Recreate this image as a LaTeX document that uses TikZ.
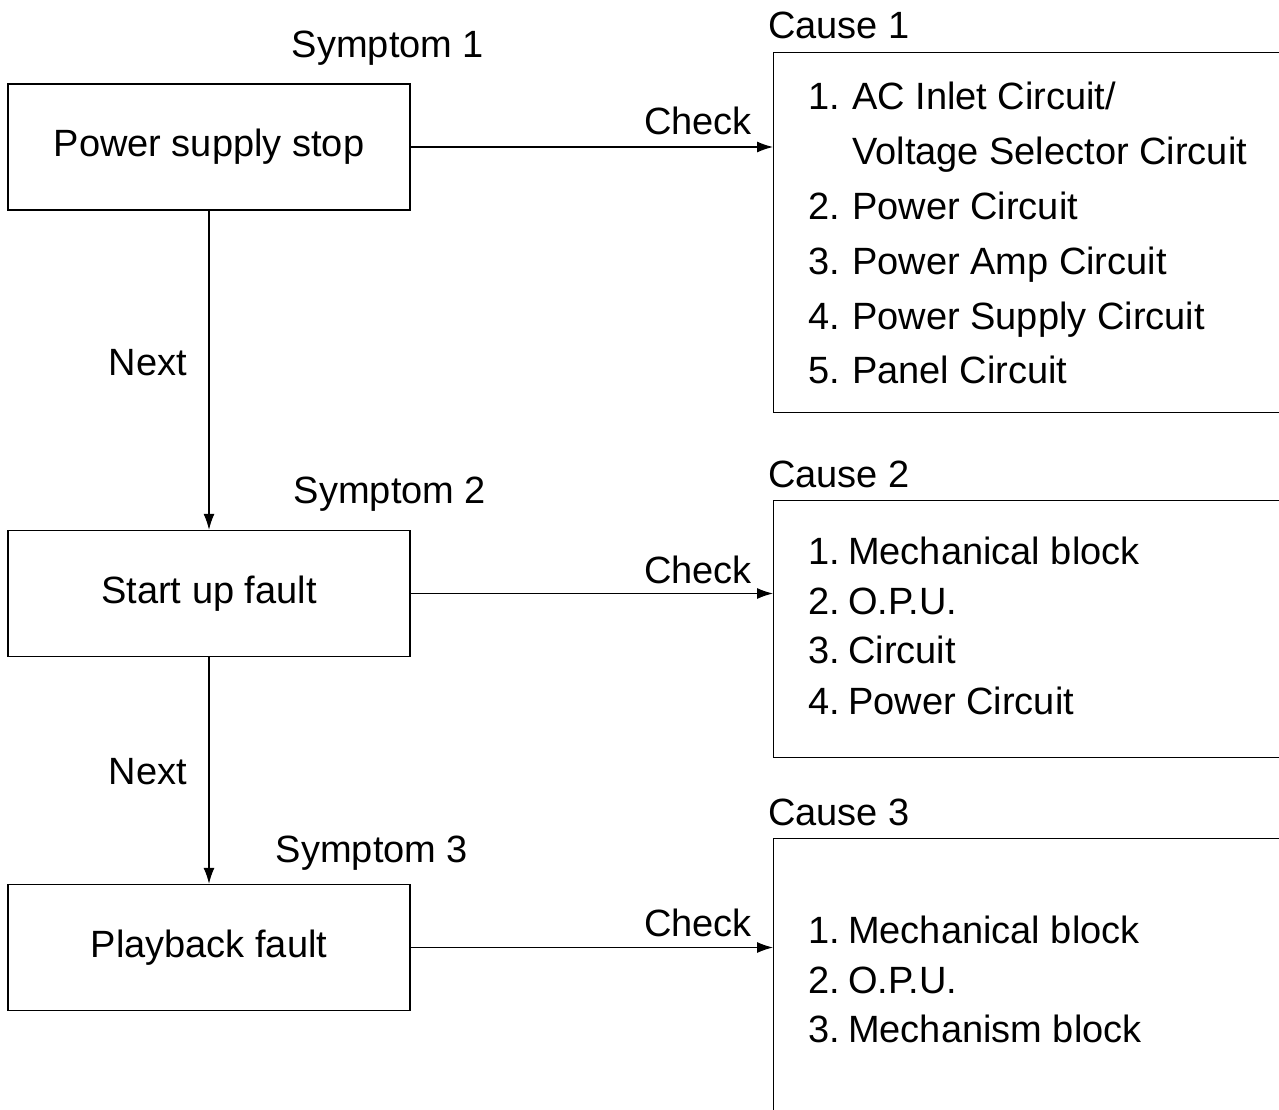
\documentclass[tikz,border=0pt]{standalone}
\usepackage{fontspec}
\setmainfont{Liberation Sans}
\usetikzlibrary{arrows.meta}
\tikzset{
  every node/.style={font=\fontsize{38}{44}\selectfont},
  symbox/.style={draw,line width=1.4pt,minimum width=402pt,minimum height=126pt,inner sep=0pt},
  causebox/.style={draw,line width=1.4pt,minimum width=600pt,anchor=north west,inner sep=0pt},
  item/.style={anchor=base west,inner sep=0pt},
  arr/.style={line width=1.2pt,-{Latex[length=16pt,width=11pt]}}
}
\begin{document}
\begin{tikzpicture}[x=1pt,y=-1pt]
    \useasboundingbox (0,0) rectangle (1279,1110);
    \clip (0,0) rectangle (1279,1110);

    % symptoms
    \node[symbox] (s1) at (209,147) {Power supply stop};
    \node[symbox] (s2) at (209,593.5) {Start up fault};
    \node[symbox] (s3) at (209,947.5) {Playback fault};
    \node[anchor=base] (sl1) at (388,58) {Symptom 1};
    \node[anchor=base] (sl2) at (390,503) {Symptom 2};
    \node[anchor=base] (sl3) at (372,862) {Symptom 3};

    % causes
    \node[causebox,minimum height=360pt] (c1) at (773,52) {};
    \node[causebox,minimum height=257pt] (c2) at (773,500) {};
    \node[causebox,minimum height=300pt] (c3) at (773,838) {};
    \node[item] (cl1) at (768,39) {Cause 1};
    \node[item] (cl2) at (768,487) {Cause 2};
    \node[item] (cl3) at (768,825) {Cause 3};

    \foreach \y\n\t in {
        110/1./{AC Inlet Circuit/},
        219/2./Power Circuit,
        274/3./Power Amp Circuit,
        329/4./Power Supply Circuit,
        383/5./Panel Circuit}{
      \node[item] (a\y) at (808,\y) {\n};
      \node[item] (at\y) at (852,\y) {\t};
    }
    \node[item] (av) at (852,165) {Voltage Selector Circuit};

    \foreach \y\n\t in {
        564/1./Mechanical block,
        614/2./O.P.U.,
        663/3./Circuit,
        714/4./Power Circuit}{
      \node[item] (b\y) at (808,\y) {\n};
      \node[item] (bt\y) at (848,\y) {\t};
    }
    \foreach \y\n\t in {
        943/1./Mechanical block,
        993/2./O.P.U.,
        1042/3./Mechanism block}{
      \node[item] (d\y) at (808,\y) {\n};
      \node[item] (dt\y) at (848,\y) {\t};
    }

    % connectors
    \draw[arr] (s1) -- (s1 -| c1.west);
    \draw[arr] (s2) -- (s2 -| c2.west);
    \draw[arr] (s3) -- (s3 -| c3.west);
    \draw[arr] (s1) -- (s2);
    \draw[arr] (s2) -- (s3);
    \node[anchor=base east,inner sep=0pt] (k1) at (752,135) {Check};
    \node[anchor=base east,inner sep=0pt] (k2) at (752,583) {Check};
    \node[anchor=base east,inner sep=0pt] (k3) at (752,936) {Check};
    \node[anchor=base,inner sep=0pt] (n1) at (148,375) {Next};
    \node[anchor=base,inner sep=0pt] (n2) at (148,784) {Next};
\end{tikzpicture}
\end{document}
